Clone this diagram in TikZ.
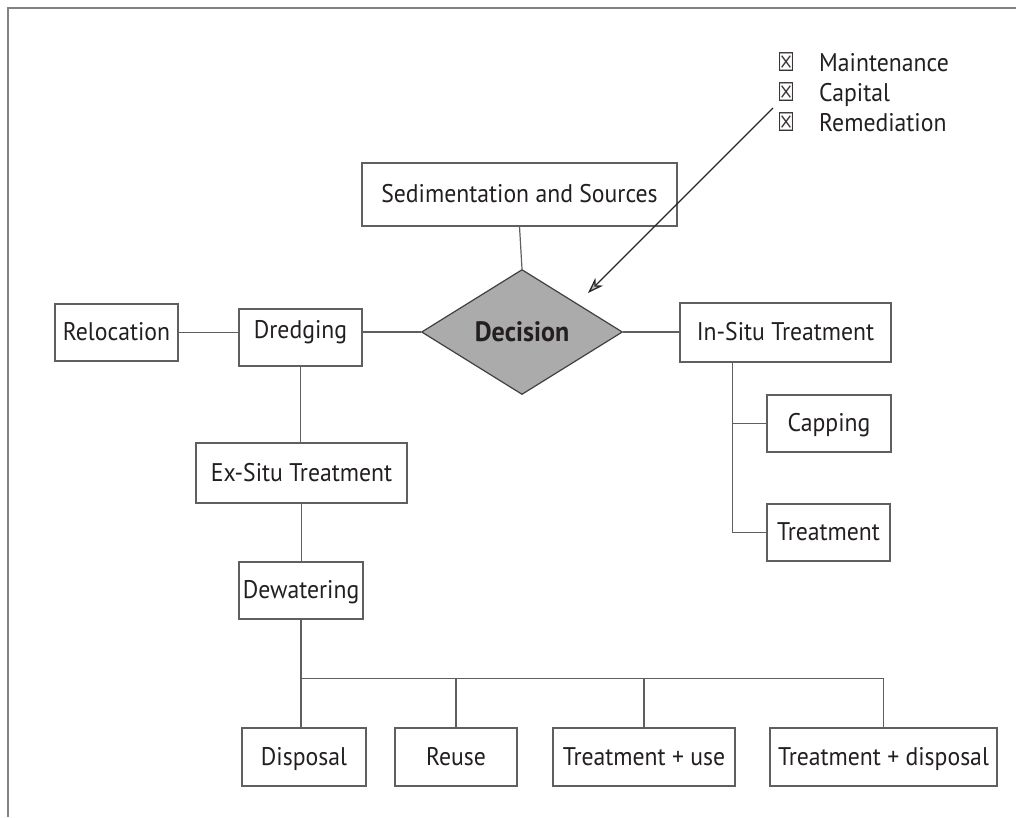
\documentclass[tikz,border=0pt]{standalone}
\usepackage{fontspec}
\setmainfont[FakeStretch=0.93]{PT Sans}
\newfontfamily\symfont[FakeStretch=0.75]{DejaVu Sans}
\usetikzlibrary{shapes.geometric,arrows.meta}
\definecolor{linegray}{RGB}{95,95,95}
\definecolor{txt}{RGB}{35,31,32}
\definecolor{dfill}{RGB}{171,171,171}
\definecolor{framec}{RGB}{130,130,130}
\begin{document}
\begin{tikzpicture}[x=1pt,y=-1pt,
  box/.style={draw=linegray,line width=1.2pt,fill=white,inner sep=0pt,text=txt,
    font=\fontsize{25.5}{28}\selectfont,text height=18pt,text depth=2pt},
  conn/.style={draw=linegray,line width=1.2pt},
  arr/.style={draw=black!85,line width=1.3pt,-{Stealth[length=16pt,width=11pt,fill=black!25]}},
  listtxt/.style={anchor=base west,inner sep=0pt,text=txt,font=\fontsize{25.5}{28}\selectfont},
  listsym/.style={anchor=base,inner sep=0pt,text=txt!90,font=\symfont\fontsize{26}{28}\selectfont}]
\useasboundingbox (0,0) rectangle (1016,817);
\draw[draw=framec,line width=1.8pt] (8,817) -- (8,8) -- (1016,8);

% nodes
\node[box,minimum width=315pt,minimum height=63pt] (sed) at (519.5,194.5) {Sedimentation and Sources};
\node[diamond,draw=black!75,line width=1.2pt,fill=dfill,inner sep=0pt,minimum width=201pt,minimum height=125pt,text=txt,font=\fontsize{28}{30}\selectfont\bfseries] (dec) at (522,332) {Decision};
\node[box,minimum width=123pt,minimum height=57pt] (reloc) at (116.5,332.5) {Relocation};
\node[box,minimum width=123pt,minimum height=57pt,text depth=16pt] (dredg) at (300.5,337.5) {Dredging};
\node[box,minimum width=211pt,minimum height=59pt] (insitu) at (785.5,332.5) {In-Situ Treatment};
\node[box,minimum width=124pt,minimum height=57pt] (capping) at (829,423.5) {Capping};
\node[box,minimum width=123pt,minimum height=57pt] (treat) at (828.5,532.5) {Treatment};
\node[box,minimum width=211pt,minimum height=60pt] (exsitu) at (301.5,473) {Ex-Situ Treatment};
\node[box,minimum width=124pt,minimum height=57pt] (dewat) at (301,590.5) {Dewatering};
\node[box,minimum width=124pt,minimum height=58pt] (disp) at (304,757) {Disposal};
\node[box,minimum width=122pt,minimum height=58pt] (reuse) at (456,757) {Reuse};
\node[box,minimum width=182pt,minimum height=58pt] (tuse) at (644,757) {Treatment + use};
\node[box,minimum width=227pt,minimum height=58pt] (tdisp) at (883.5,757) {Treatment + disposal};

% checklist
\node[listsym] (s1) at (786,71) {☒};
\node[listsym] (s2) at (786,101) {☒};
\node[listsym] (s3) at (786,131) {☒};
\node[listtxt] (l1) at (819,71) {Maintenance};
\node[listtxt] (l2) at (819,101) {Capital};
\node[listtxt] (l3) at (819,131) {Remediation};

% connectors
\draw[conn] (sed.south) -- (dec.north);
\draw[conn] (reloc.east) -- (reloc.east -| dredg.west);
\draw[conn] (dec.west) -- (dec.west -| dredg.east);
\draw[conn] (dec.east) -- (dec.east -| insitu.west);
\draw[conn] (dredg.south) -- (dredg.south |- exsitu.north);
\draw[conn] (exsitu.south) -- (exsitu.south |- dewat.north);
\draw[conn] ([xshift=53pt]insitu.south west) |- (treat.west);
\draw[conn] ([xshift=53pt]insitu.south west) |- (capping.west);
\draw[conn] (dewat.south) -- ++(0,59) coordinate (b0) -| (tdisp.north);
\draw[conn] (b0) -- (b0 |- disp.north);
\draw[conn] (reuse.north) -- (reuse.north |- b0);
\draw[conn] (tuse.north) -- (tuse.north |- b0);

% arrow
\coordinate (as) at (773,108);
\coordinate (ae) at (588,293);
\draw[arr] (as) -- (ae);
\end{tikzpicture}
\end{document}
